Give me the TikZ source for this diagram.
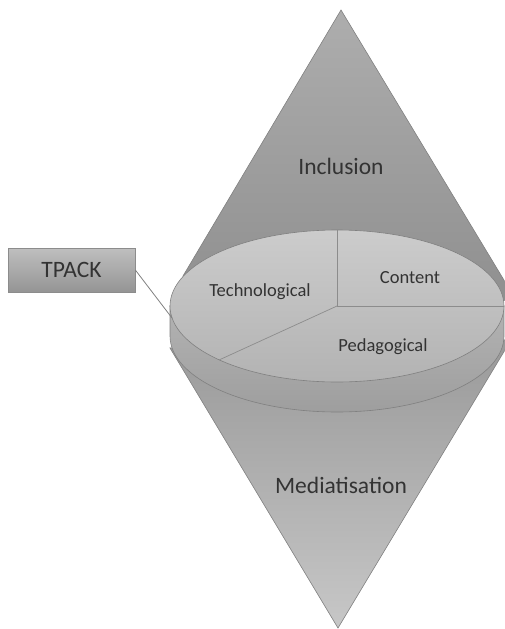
\documentclass[tikz,border=0pt]{standalone}
\usepackage{fontspec}
\setmainfont{Carlito}
\begin{document}
\begin{tikzpicture}[x=1pt,y=-1pt,
  edge/.style={draw=black!50,line width=0.6pt},
  bigtext/.style={text=black!80,font=\fontsize{23.5}{27}\selectfont},
  smalltext/.style={text=black!80,font=\fontsize{18.5}{22}\selectfont},
  pie/.style={draw=black!45,line width=0.7pt}]
\useasboundingbox (0,0) rectangle (504,629);
% upper triangle
\path[edge,top color=black!32,bottom color=black!44]
  (341,10) -- (516,300) -- (337,306) -- (183,276) -- cycle;
% lower triangle
\path[edge,top color=black!40,bottom color=black!22]
  (338,628) -- (170,348) -- (337,336) -- (511,340) -- cycle;
% cylinder side
\path[edge,top color=black!30,bottom color=black!38]
  (170,306) -- (170,336) arc[start angle=180,end angle=360,x radius=167pt,y radius=76pt]
  -- (504,306) -- cycle;
% top face
\path[edge,top color=black!20,bottom color=black!30]
  (337,306) ellipse[x radius=167pt,y radius=76pt];
\coordinate (c) at (337,306);
\draw[pie] (c) -- ++(0,-76);
\draw[pie] (c) -- ++(167,0);
\draw[pie] (c) -- ++(-118,54);
% labels
\node[bigtext] (incl) at (341,166) {Inclusion};
\node[bigtext] (med) at (341,485) {Mediatisation};
\node[smalltext] (tech) at (260,292) {Technological};
\node[smalltext] (cont) at (410,278) {Content};
\node[smalltext] (ped) at (383,347) {Pedagogical};
% TPACK
\node[draw=black!45,line width=0.7pt,top color=black!25,bottom color=black!42,
  minimum width=127pt,minimum height=44pt,inner sep=0pt,bigtext] (tpack) at (71.5,270) {TPACK};
\coordinate (tend) at (172,318);
\draw[black!50,line width=0.8pt] (tpack.east) -- (tend);
\end{tikzpicture}
\end{document}
